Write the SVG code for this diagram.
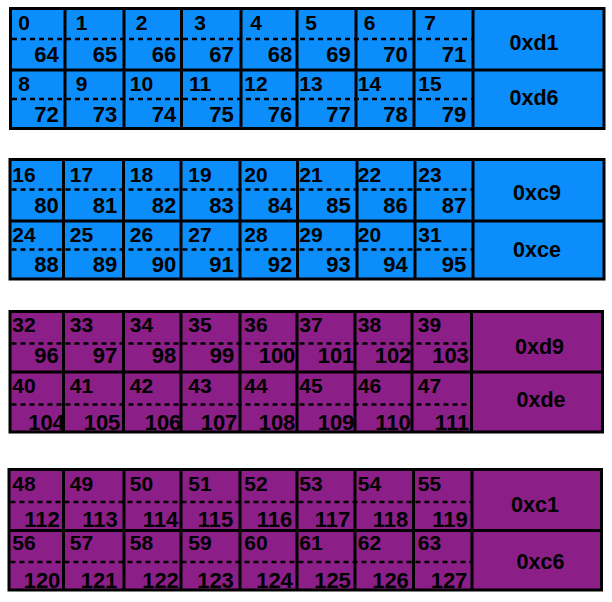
<svg xmlns="http://www.w3.org/2000/svg" width="612" height="602" viewBox="0 0 612 602">
<style>
.blue{fill:#0b8dfb}
.purple{fill:#8b1f87}
.ln{stroke:#000;stroke-width:3;fill:none}
.frame{stroke:#000;stroke-width:3}
.dash{stroke:#000;stroke-width:2.5;stroke-dasharray:5 4;fill:none}
text{font-family:"Liberation Sans",Arial,Helvetica,sans-serif;font-weight:bold;fill:#000;text-anchor:middle}
.t{font-size:21px}
.b{font-size:22px}
.h{font-size:21.5px}
</style>
<rect width="612" height="602" fill="#fff"/>
<g id="connectors"/>

<g id="block1">
<rect class="blue frame" x="10.5" y="8.5" width="593.5" height="120"/>
<path class="ln" d="M10.5 70H604M65 8.5V128.5M124 8.5V128.5M181.5 8.5V128.5M241 8.5V128.5M297 8.5V128.5M356 8.5V128.5M414 8.5V128.5M473 8.5V128.5"/>
<path class="dash" d="M12 39H472M12 99H472"/>
<g class="t">
<text x="24" y="30">0</text><text x="81.5" y="30">1</text><text x="141.5" y="30">2</text><text x="200" y="30">3</text><text x="256" y="30">4</text><text x="311" y="30">5</text><text x="369.5" y="30">6</text><text x="430" y="30">7</text>
<text x="24" y="91">8</text><text x="81.5" y="91">9</text><text x="141.5" y="91">10</text><text x="200" y="91">11</text><text x="256" y="91">12</text><text x="311" y="91">13</text><text x="369.5" y="91">14</text><text x="430" y="91">15</text>
</g>
<g class="b">
<text x="46.5" y="62">64</text><text x="105" y="62">65</text><text x="164" y="62">66</text><text x="221.5" y="62">67</text><text x="280" y="62">68</text><text x="338.5" y="62">69</text><text x="395.5" y="62">70</text><text x="454" y="62">71</text>
<text x="46.5" y="122">72</text><text x="105" y="122">73</text><text x="164" y="122">74</text><text x="221.5" y="122">75</text><text x="280" y="122">76</text><text x="338.5" y="122">77</text><text x="395.5" y="122">78</text><text x="454" y="122">79</text>
</g>
<text class="h" x="534" y="50">0xd1</text>
<text class="h" x="534" y="104.5">0xd6</text>
</g>

<g id="block2">
<rect class="blue frame" x="10" y="159.5" width="594" height="119.5"/>
<path class="ln" d="M10 221H604M63.5 159.5V279M123.5 159.5V279M181 159.5V279M240 159.5V279M297.5 159.5V279M357 159.5V279M415 159.5V279M473 159.5V279"/>
<path class="dash" d="M11.5 189.5H472M11.5 249.5H472"/>
<g class="t">
<text x="24" y="182">16</text><text x="81.5" y="182">17</text><text x="141.5" y="182">18</text><text x="200" y="182">19</text><text x="256" y="182">20</text><text x="311" y="182">21</text><text x="369.5" y="182">22</text><text x="430" y="182">23</text>
<text x="24" y="242">24</text><text x="81.5" y="242">25</text><text x="141.5" y="242">26</text><text x="200" y="242">27</text><text x="256" y="242">28</text><text x="311" y="242">29</text><text x="369.5" y="242">20</text><text x="430" y="242">31</text>
</g>
<g class="b">
<text x="46.5" y="213">80</text><text x="105" y="213">81</text><text x="164" y="213">82</text><text x="221.5" y="213">83</text><text x="280" y="213">84</text><text x="338.5" y="213">85</text><text x="395.5" y="213">86</text><text x="454" y="213">87</text>
<text x="46.5" y="272">88</text><text x="105" y="272">89</text><text x="164" y="272">90</text><text x="221.5" y="272">91</text><text x="280" y="272">92</text><text x="338.5" y="272">93</text><text x="395.5" y="272">94</text><text x="454" y="272">95</text>
</g>
<text class="h" x="537" y="200">0xc9</text>
<text class="h" x="537" y="257">0xce</text>
</g>

<g id="block3">
<rect class="purple frame" x="10" y="311.5" width="592.5" height="120.5"/>
<path class="ln" d="M10 372H602.5M63.5 311.5V432M123.5 311.5V432M181 311.5V432M240 311.5V432M297 311.5V432M355 311.5V432M412 311.5V432M471.5 311.5V432"/>
<path class="dash" d="M11.5 343.5H470.5M11.5 404.5H470.5"/>
<g class="t">
<text x="24" y="332">32</text><text x="81.5" y="332">33</text><text x="141.5" y="332">34</text><text x="200" y="332">35</text><text x="256" y="332">36</text><text x="311" y="332">37</text><text x="369.5" y="332">38</text><text x="429.5" y="332">39</text>
<text x="24" y="392.5">40</text><text x="81.5" y="392.5">41</text><text x="141.5" y="392.5">42</text><text x="200" y="392.5">43</text><text x="256" y="392.5">44</text><text x="311" y="392.5">45</text><text x="369.5" y="392.5">46</text><text x="429.5" y="392.5">47</text>
</g>
<g class="b">
<text x="46.5" y="363">96</text><text x="105" y="363">97</text><text x="164" y="363">98</text><text x="222" y="363">99</text><text x="277" y="363">100</text><text x="336" y="363">101</text><text x="393" y="363">102</text><text x="450.5" y="363">103</text>
<text x="46.5" y="429.5">104</text><text x="102" y="429.5">105</text><text x="163" y="429.5">106</text><text x="219" y="429.5">107</text><text x="277" y="429.5">108</text><text x="336" y="429.5">109</text><text x="393" y="429.5">110</text><text x="452" y="429.5">111</text>
</g>
<text class="h" x="539.5" y="353.5">0xd9</text>
<text class="h" x="541" y="406.5">0xde</text>
</g>

<g id="block4">
<rect class="purple frame" x="9" y="469.5" width="592.5" height="120.5"/>
<path class="ln" d="M9 530.5H601.5M63.5 469.5V590M124 469.5V590M181 469.5V590M240 469.5V590M297 469.5V590M355 469.5V590M413.5 469.5V590M472 469.5V590"/>
<path class="dash" d="M10.5 502H471M10.5 562H471"/>
<g class="t">
<text x="24" y="491">48</text><text x="81.5" y="491">49</text><text x="141.5" y="491">50</text><text x="200" y="491">51</text><text x="256" y="491">52</text><text x="311" y="491">53</text><text x="369.5" y="491">54</text><text x="429.5" y="491">55</text>
<text x="24" y="550">56</text><text x="81.5" y="550">57</text><text x="141.5" y="550">58</text><text x="200" y="550">59</text><text x="256" y="550">60</text><text x="311" y="550">61</text><text x="369.5" y="550">62</text><text x="429.5" y="550">63</text>
</g>
<g class="b">
<text x="42" y="526.5">112</text><text x="100" y="526.5">113</text><text x="160.5" y="526.5">114</text><text x="215.5" y="526.5">115</text><text x="274.5" y="526.5">116</text><text x="332.5" y="526.5">117</text><text x="390.5" y="526.5">118</text><text x="450" y="526.5">119</text>
<text x="42" y="588">120</text><text x="99" y="588">121</text><text x="160.5" y="588">122</text><text x="215.5" y="588">123</text><text x="274.5" y="588">124</text><text x="332.5" y="588">125</text><text x="390.5" y="588">126</text><text x="449" y="588">127</text>
</g>
<text class="h" x="535" y="511.5">0xc1</text>
<text class="h" x="540.5" y="569">0xc6</text>
</g>
</svg>
